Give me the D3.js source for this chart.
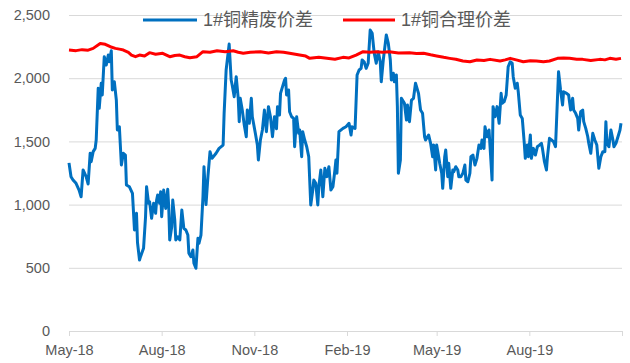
<!DOCTYPE html>
<html><head><meta charset="utf-8">
<script src="https://cdn.jsdelivr.net/npm/d3@7"></script>
<style>body{margin:0;background:#fff}svg{display:block}</style>
</head><body>
<svg id="chart" width="630" height="363"></svg>
<script>
const seriesNames = ["1#铜精废价差", "1#铜合理价差"];
const seriesColors = ["#0070C0", "#FF0000"];

const scrapDates = ["2018-05-01","2018-05-03","2018-05-05","2018-05-08","2018-05-11","2018-05-13","2018-05-15","2018-05-18","2018-05-20","2018-05-22","2018-05-23","2018-05-25","2018-05-27","2018-05-28","2018-05-30","2018-05-31","2018-06-02","2018-06-03","2018-06-05","2018-06-07","2018-06-09","2018-06-10","2018-06-12","2018-06-13","2018-06-15","2018-06-17","2018-06-18","2018-06-20","2018-06-22","2018-06-24","2018-06-26","2018-06-27","2018-06-30","2018-07-03","2018-07-05","2018-07-07","2018-07-08","2018-07-10","2018-07-11","2018-07-14","2018-07-16","2018-07-17","2018-07-19","2018-07-20","2018-07-22","2018-07-24","2018-07-26","2018-07-27","2018-07-28","2018-07-30","2018-07-31","2018-08-01","2018-08-03","2018-08-05","2018-08-07","2018-08-08","2018-08-09","2018-08-11","2018-08-12","2018-08-14","2018-08-15","2018-08-17","2018-08-19","2018-08-21","2018-08-23","2018-08-25","2018-08-27","2018-08-28","2018-08-30","2018-09-01","2018-09-02","2018-09-04","2018-09-06","2018-09-07","2018-09-09","2018-09-11","2018-09-12","2018-09-14","2018-09-16","2018-09-18","2018-09-20","2018-09-24","2018-09-27","2018-10-01","2018-10-02","2018-10-04","2018-10-07","2018-10-09","2018-10-10","2018-10-12","2018-10-14","2018-10-16","2018-10-17","2018-10-18","2018-10-20","2018-10-22","2018-10-24","2018-10-25","2018-10-27","2018-10-29","2018-10-30","2018-11-02","2018-11-04","2018-11-05","2018-11-07","2018-11-09","2018-11-11","2018-11-13","2018-11-15","2018-11-17","2018-11-19","2018-11-21","2018-11-23","2018-11-24","2018-11-26","2018-11-27","2018-11-29","2018-12-01","2018-12-02","2018-12-03","2018-12-05","2018-12-06","2018-12-08","2018-12-10","2018-12-11","2018-12-13","2018-12-15","2018-12-16","2018-12-18","2018-12-19","2018-12-21","2018-12-23","2018-12-25","2018-12-27","2018-12-29","2018-12-30","2019-01-01","2019-01-03","2019-01-04","2019-01-06","2019-01-08","2019-01-10","2019-01-12","2019-01-14","2019-01-16","2019-01-18","2019-01-20","2019-01-21","2019-01-22","2019-01-24","2019-01-28","2019-01-31","2019-02-03","2019-02-05","2019-02-06","2019-02-09","2019-02-11","2019-02-13","2019-02-15","2019-02-16","2019-02-18","2019-02-20","2019-02-22","2019-02-24","2019-02-26","2019-02-28","2019-03-02","2019-03-04","2019-03-06","2019-03-07","2019-03-09","2019-03-11","2019-03-12","2019-03-14","2019-03-16","2019-03-17","2019-03-19","2019-03-20","2019-03-22","2019-03-23","2019-03-24","2019-03-26","2019-03-27","2019-03-30","2019-04-01","2019-04-02","2019-04-04","2019-04-06","2019-04-08","2019-04-10","2019-04-13","2019-04-15","2019-04-17","2019-04-19","2019-04-20","2019-04-23","2019-04-25","2019-04-27","2019-04-28","2019-04-30","2019-05-01","2019-05-03","2019-05-04","2019-05-06","2019-05-07","2019-05-09","2019-05-10","2019-05-12","2019-05-13","2019-05-15","2019-05-17","2019-05-18","2019-05-20","2019-05-22","2019-05-23","2019-05-25","2019-05-27","2019-05-29","2019-05-30","2019-06-01","2019-06-03","2019-06-04","2019-06-06","2019-06-08","2019-06-10","2019-06-12","2019-06-14","2019-06-15","2019-06-17","2019-06-18","2019-06-20","2019-06-22","2019-06-23","2019-06-25","2019-06-26","2019-06-28","2019-06-30","2019-07-02","2019-07-04","2019-07-05","2019-07-07","2019-07-09","2019-07-11","2019-07-13","2019-07-15","2019-07-16","2019-07-18","2019-07-20","2019-07-21","2019-07-23","2019-07-25","2019-07-27","2019-07-28","2019-07-30","2019-07-31","2019-08-02","2019-08-03","2019-08-05","2019-08-07","2019-08-09","2019-08-11","2019-08-13","2019-08-14","2019-08-16","2019-08-18","2019-08-19","2019-08-21","2019-08-23","2019-08-25","2019-08-27","2019-08-30","2019-09-01","2019-09-03","2019-09-04","2019-09-07","2019-09-09","2019-09-11","2019-09-13","2019-09-14","2019-09-16","2019-09-18","2019-09-19","2019-09-21","2019-09-23","2019-09-24","2019-09-26","2019-09-28","2019-09-29","2019-10-01","2019-10-03","2019-10-05","2019-10-07","2019-10-09","2019-10-11","2019-10-13","2019-10-15","2019-10-16","2019-10-17","2019-10-19","2019-10-21","2019-10-23","2019-10-24","2019-10-26","2019-10-28","2019-10-30","2019-10-31"];
const scrapValues = [1330,1221,1195,1168,1115,1062,1274,1221,1163,1406,1339,1419,1445,1511,1920,1762,1960,1867,2170,2104,2183,2130,2217,1907,1972,1827,1590,1616,1313,1406,1392,1155,1141,1089,799,931,700,562,588,654,904,1141,1010,1023,892,1010,931,1036,1076,1010,1102,904,1115,970,1121,983,720,825,1036,878,720,746,720,957,812,799,759,615,588,641,536,496,733,694,759,1062,1300,1000,1230,1419,1366,1406,1445,1471,1722,2065,2270,1986,1946,1854,2012,1841,1656,1841,1748,1630,1537,1748,1643,1841,1695,1564,1471,1353,1511,1590,1748,1577,1775,1695,1537,1695,1600,1775,1709,1880,1933,1986,1999,1867,1907,1735,1695,1682,1458,1695,1564,1590,1379,1577,1511,1458,1379,997,1115,1194,1168,997,1141,1274,1062,1287,1221,1300,1115,1141,1274,1353,1248,1577,1603,1616,1643,1551,1616,1603,2025,2065,2078,2144,2130,2078,2118,2381,2355,2197,2118,2210,2130,1972,2144,2276,2342,2276,2144,1986,2039,1972,2025,1775,1248,1353,1841,1801,1669,1788,1656,1827,1841,1960,1880,1748,1722,1537,1511,1551,1485,1379,1471,1274,1471,1379,1327,1248,1129,1379,1432,1221,1327,1129,1274,1260,1300,1274,1221,1221,1248,1313,1194,1181,1248,1379,1392,1313,1366,1471,1445,1511,1445,1616,1537,1590,1458,1194,1775,1695,1775,1643,1880,1801,1814,1867,2091,2130,2118,2012,1920,1960,1893,1709,1682,1485,1366,1471,1379,1551,1366,1445,1392,1458,1471,1485,1445,1339,1274,1379,1524,1511,1498,1458,2051,1907,1788,1893,1880,1867,1748,1841,1748,1722,1682,1590,1735,1748,1656,1603,1537,1485,1406,1564,1511,1471,1287,1379,1419,1419,1656,1485,1458,1590,1511,1458,1485,1537,1590,1643];

const fairDates = ["2018-05-01","2018-05-08","2018-05-14","2018-05-20","2018-05-25","2018-06-01","2018-06-06","2018-06-11","2018-06-16","2018-06-20","2018-06-24","2018-06-29","2018-07-02","2018-07-06","2018-07-10","2018-07-15","2018-07-20","2018-07-26","2018-08-02","2018-08-09","2018-08-14","2018-08-19","2018-08-24","2018-08-29","2018-09-05","2018-09-11","2018-09-18","2018-09-25","2018-10-03","2018-10-11","2018-10-16","2018-10-21","2018-10-28","2018-11-07","2018-11-15","2018-11-23","2018-11-30","2018-12-06","2018-12-16","2018-12-22","2018-12-26","2019-01-04","2019-01-12","2019-01-20","2019-01-28","2019-02-03","2019-02-10","2019-02-17","2019-02-24","2019-03-02","2019-03-08","2019-03-15","2019-03-24","2019-04-04","2019-04-11","2019-04-18","2019-04-25","2019-05-01","2019-05-08","2019-05-14","2019-05-20","2019-05-27","2019-06-03","2019-06-10","2019-06-17","2019-06-23","2019-07-03","2019-07-08","2019-07-13","2019-07-19","2019-07-26","2019-08-02","2019-08-08","2019-08-15","2019-08-21","2019-08-29","2019-09-04","2019-09-10","2019-09-17","2019-09-23","2019-10-01","2019-10-10","2019-10-15","2019-10-20","2019-10-26","2019-10-31"];
const fairValues = [2223,2218,2226,2222,2236,2275,2268,2249,2236,2230,2223,2205,2183,2170,2183,2175,2202,2190,2197,2170,2180,2183,2170,2162,2170,2210,2205,2217,2210,2217,2205,2197,2205,2210,2200,2210,2205,2197,2183,2175,2157,2165,2157,2150,2165,2160,2183,2210,2205,2210,2205,2210,2200,2202,2195,2197,2185,2176,2165,2157,2150,2136,2130,2144,2140,2149,2136,2145,2157,2145,2130,2138,2136,2130,2136,2157,2160,2157,2150,2149,2140,2149,2145,2157,2150,2157];

const yTicks = [0, 500, 1000, 1500, 2000, 2500];
const xTickDates = ["2018-05-01","2018-08-01","2018-11-01","2019-02-01","2019-05-01","2019-08-01","2019-11-01"];
const xTickLabels = ["May-18","Aug-18","Nov-18","Feb-19","May-19","Aug-19",""];

(function () {
const parse = d3.timeParse("%Y-%m-%d");
const svg = d3.select("#chart");
const mLeft = 69, mRight = 622, mTop = 15, mBottom = 331;
const font = "'Liberation Sans', Arial, 'Noto Sans CJK SC', sans-serif";
const textColor = "#595959";

const x = d3.scaleTime().domain([parse(xTickDates[0]), parse(xTickDates[xTickDates.length-1])]).range([mLeft, mRight]);
const y = d3.scaleLinear().domain([0, 2500]).range([mBottom, mTop]);

const gy = svg.append("g").attr("transform", `translate(${mLeft},0)`)
  .call(d3.axisLeft(y).tickValues(yTicks).tickSize(-(mRight-mLeft)).tickPadding(19).tickFormat(d3.format(",")));
gy.select(".domain").remove();
gy.selectAll(".tick line").attr("stroke", "#d9d9d9").attr("stroke-width", 1);
gy.selectAll(".tick text").attr("fill", textColor).attr("font-size", "14.5px").attr("font-family", font);

const tickDates = xTickDates.map(parse);
const gx = svg.append("g").attr("transform", `translate(0,${mBottom})`)
  .call(d3.axisBottom(x).tickValues(tickDates).tickSize(5).tickPadding(9)
    .tickFormat((d, i) => xTickLabels[i]));
gx.select(".domain").attr("stroke", "#d9d9d9").attr("stroke-width", 1);
gx.selectAll(".tick line").attr("stroke", "#d9d9d9");
gx.selectAll(".tick text").attr("fill", textColor).attr("font-size", "14.5px").attr("font-family", font);

const line = d3.line().x(d => x(d.date)).y(d => y(d.value));
const scrapData = scrapDates.map((d, i) => ({date: parse(d), value: scrapValues[i]}));
const fairData = fairDates.map((d, i) => ({date: parse(d), value: fairValues[i]}));

svg.append("path").datum(scrapData).attr("d", line).attr("fill", "none")
  .attr("stroke", seriesColors[0]).attr("stroke-width", 3).attr("stroke-linejoin", "round");
svg.append("path").datum(fairData).attr("d", line).attr("fill", "none")
  .attr("stroke", seriesColors[1]).attr("stroke-width", 3).attr("stroke-linejoin", "round");

const legendItems = [{x1: 143, x2: 197, tx: 203}, {x1: 343, x2: 395, tx: 401}];
legendItems.forEach((p, i) => {
  svg.append("line").attr("x1", p.x1).attr("x2", p.x2).attr("y1", 20).attr("y2", 20)
    .attr("stroke", seriesColors[i]).attr("stroke-width", 3);
  svg.append("text").attr("x", p.tx).attr("y", 20).attr("dy", "0.35em")
    .attr("fill", textColor).attr("font-size", "18px").attr("font-family", font)
    .text(seriesNames[i]);
});
})();
</script>
</body></html>
